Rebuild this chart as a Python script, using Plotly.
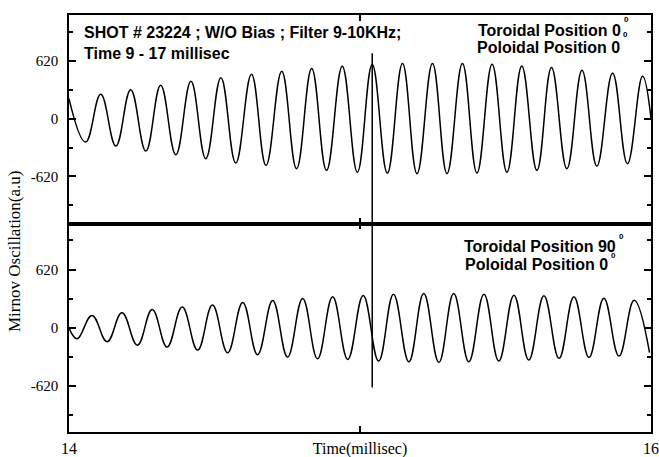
import plotly.graph_objects as go

# ---- data (extrema of the filtered Mirnov signals) ----
top_time = [14.000, 14.057, 14.109, 14.161, 14.212, 14.264, 14.315, 14.367, 14.419, 14.470,
            14.522, 14.573, 14.627, 14.677, 14.731, 14.782, 14.834, 14.885, 14.939, 14.991,
            15.042, 15.094, 15.146, 15.196, 15.249, 15.299, 15.352, 15.402, 15.454, 15.505,
            15.556, 15.608, 15.658, 15.711, 15.763, 15.814, 15.868, 15.919, 15.971, 16.000]
top_signal = [215, -251, 261, -294, 311, -348, 358, -387, 401, -430,
              440, -477, 476, -502, 508, -537, 537, -555, 562, -574,
              580, -584, 591, -591, 591, -591, 591, -584, 584, -574,
              566, -555, 548, -537, 519, -509, 490, -483, 455, 0]

bottom_time = [14.000, 14.028, 14.079, 14.131, 14.182, 14.235, 14.286, 14.337, 14.389, 14.442,
               14.493, 14.545, 14.597, 14.648, 14.700, 14.751, 14.803, 14.854, 14.906, 14.958,
               15.011, 15.064, 15.115, 15.168, 15.219, 15.271, 15.322, 15.374, 15.426, 15.477,
               15.529, 15.580, 15.632, 15.684, 15.735, 15.787, 15.838, 15.890, 15.942, 15.995]
bottom_signal = [0, -117, 131, -149, 160, -185, 195, -206, 220, -238,
                 241, -266, 269, -287, 290, -312, 312, -330, 330, -337,
                 343, -355, 357, -362, 365, -369, 365, -362, 357, -355,
                 347, -344, 340, -326, 330, -316, 315, -302, 293, -266]

marker_time = 15.042
marker_top_start = 702
marker_bottom_end = -635

x_tickvals = [14, 15, 16]
x_ticktext = ["14", "Time(millisec)", "16"]
y_major = [-620, 0, 620]
y_major_text = ["-620", "0", "620"]
y_minor = [-930, -310, 310, 930]

top_range = [-1125, 1112]
bottom_range = [-1110, 1110]

serif = "Liberation Serif"
sans = "Liberation Sans"

W, H = 659, 457
ML, MR, MT, MB = 69, 8, 15, 25


def px(xp):
    return (xp - ML) / (W - ML - MR)


def py(yp):
    return (H - MB - yp) / (H - MT - MB)


fig = go.Figure()
fig.add_trace(go.Scatter(x=top_time, y=top_signal, mode="lines",
                         line=dict(color="black", width=1.5, shape="spline", smoothing=1.2),
                         xaxis="x2", yaxis="y", showlegend=False))
fig.add_trace(go.Scatter(x=bottom_time, y=bottom_signal, mode="lines",
                         line=dict(color="black", width=1.5, shape="spline", smoothing=1.2),
                         xaxis="x", yaxis="y2", showlegend=False))

common_axis = dict(showline=True, linecolor="black", linewidth=1.6, mirror="ticks",
                   ticks="inside", tickcolor="black", tickwidth=1.5, showgrid=False,
                   zeroline=False, automargin=False)

fig.update_layout(
    width=W, height=H,
    margin=dict(l=ML, r=MR, t=MT, b=MB, autoexpand=False),
    paper_bgcolor="white", plot_bgcolor="white",
    xaxis=dict(**common_axis, domain=[0, 1], anchor="y2", range=[14, 16],
               tickmode="array", tickvals=x_tickvals, ticktext=x_ticktext, ticklen=6,
               ticklabelstandoff=1,
               tickfont=dict(family=serif, size=16, color="black")),
    xaxis2=dict(**common_axis, domain=[0, 1], anchor="y", range=[14, 16], matches="x",
                tickmode="array", tickvals=x_tickvals, ticklen=6, showticklabels=False),
    yaxis=dict(**common_axis, domain=[0.5, 1], anchor="x2", range=top_range,
               tickmode="array", tickvals=y_major, ticktext=y_major_text, ticklen=7,
               ticklabelstandoff=6,
               minor=dict(tickmode="array", tickvals=y_minor, ticks="inside", ticklen=4,
                          tickcolor="black", tickwidth=1.5),
               tickfont=dict(family=serif, size=15, color="black")),
    yaxis2=dict(**common_axis, domain=[0, 0.5], anchor="x", range=bottom_range,
                tickmode="array", tickvals=y_major, ticktext=y_major_text, ticklen=7,
                ticklabelstandoff=6,
                minor=dict(tickmode="array", tickvals=y_minor, ticks="inside", ticklen=4,
                           tickcolor="black", tickwidth=1.5),
                tickfont=dict(family=serif, size=15, color="black")),
)

fig.add_shape(type="line", xref="x2", yref="y", x0=marker_time, x1=marker_time,
              y0=marker_top_start, y1=top_range[0], line=dict(color="black", width=1.5))
fig.add_shape(type="line", xref="x", yref="y2", x0=marker_time, x1=marker_time,
              y0=bottom_range[1], y1=marker_bottom_end, line=dict(color="black", width=1.5))

bold = dict(family=sans, size=16, color="black", weight="bold")
small_bold = dict(family=sans, size=8, color="black", weight="bold")

# left block (left aligned)
for text, xp, yp in [("SHOT # 23224 ; W/O Bias ; Filter 9-10KHz;", 82, 32.5),
                     ("Time 9 - 17 millisec", 82, 53.3)]:
    fig.add_annotation(text=text, xref="paper", yref="paper", x=px(xp), y=py(yp),
                       xanchor="left", yanchor="middle", showarrow=False, font=bold)

# position labels: main text right-anchored, small raised "0" after it
for text, xend, yp, ysup in [("Toroidal Position 0", 622.5, 30.8, 19.0),
                             ("Poloidal Position 0", 621.5, 47.5, 34.5),
                             ("Toroidal Position 90", 617.5, 246.0, 236.0),
                             ("Poloidal Position 0", 609.5, 264.0, 255.5)]:
    fig.add_annotation(text=text, xref="paper", yref="paper", x=px(xend), y=py(yp),
                       xanchor="right", yanchor="middle", showarrow=False, font=bold)
    fig.add_annotation(text="0", xref="paper", yref="paper", x=px(xend + 0.5), y=py(ysup),
                       xanchor="left", yanchor="middle", showarrow=False, font=small_bold,
                       borderpad=0)

fig.add_annotation(text="Mirnov Oscillation(a.u)", xref="paper", yref="paper",
                   x=px(14), y=py(252), xanchor="center", yanchor="middle",
                   textangle=-90, showarrow=False,
                   font=dict(family=serif, size=17, color="black"))

fig.write_html("out.html")
